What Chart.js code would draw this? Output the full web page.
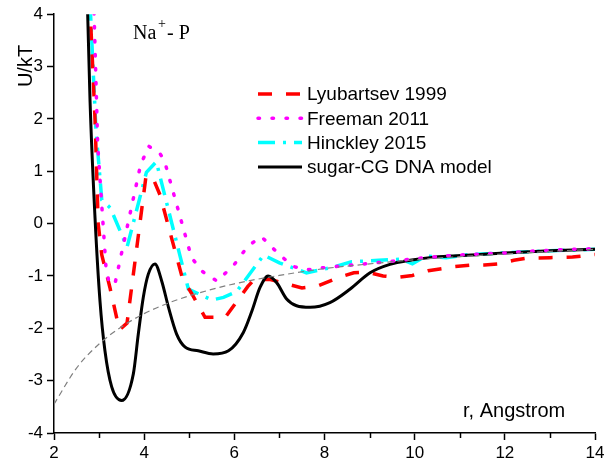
<!DOCTYPE html>
<html>
<head>
<meta charset="utf-8">
<script src="https://cdn.jsdelivr.net/npm/chart.js@4"></script>
<style>
  html, body { margin: 0; padding: 0; background: #fff; }
  #wrap { width: 615px; height: 462px; }
</style>
</head>
<body>
<div id="wrap"><canvas id="myChart" width="615" height="462"></canvas></div>
<script>
// Data (r in Angstrom, U/kT)
const lyubX = [2.79, 2.91, 2.98, 3.06, 3.24, 3.45, 3.62, 4.04, 4.18, 4.35, 4.85, 5.05, 5.35, 5.8, 6.3, 6.45, 6.8, 7.2, 7.5, 7.85, 8.35, 8.65, 8.95, 9.3, 9.6, 9.95, 10.3, 10.9, 11.25, 11.55, 11.85, 12.2, 12.5, 13.0, 13.5, 14.0];
const lyubY = [4.3, 2.0, 0.0, -0.6, -1.22, -2.03, -1.9, 0.9, 0.9, 0.55, -1.05, -1.33, -1.79, -1.79, -1.2, -1.06, -1.07, -1.16, -1.23, -1.19, -1.02, -0.94, -0.93, -1.0, -1.03, -0.99, -0.9, -0.82, -0.79, -0.79, -0.77, -0.7, -0.66, -0.65, -0.64, -0.59];

const freeX = [2.88, 2.97, 3.15, 3.22, 3.35, 3.92, 4.1, 4.35, 4.45, 5.05, 5.3, 5.62, 6.0, 6.3, 6.6, 6.95, 7.3, 7.65, 8.0, 8.5, 9.0, 9.5, 10.0, 10.5, 11.0, 11.5, 12.0, 12.5, 13.0, 13.5, 14.0];
const freeY = [4.3, 1.5, -0.8, -1.13, -1.16, 1.12, 1.48, 1.34, 1.2, -0.65, -0.92, -1.1, -0.78, -0.43, -0.25, -0.55, -0.82, -0.88, -0.84, -0.8, -0.76, -0.72, -0.67, -0.63, -0.6, -0.58, -0.56, -0.53, -0.51, -0.49, -0.48];

const hinckX = [2.8, 2.93, 3.06, 3.25, 3.62, 4.05, 4.27, 4.98, 5.5, 5.76, 6.05, 6.65, 7.0, 7.6, 8.15, 8.6, 9.2, 9.7, 9.95, 10.25, 10.7, 11.2, 11.5, 12.0, 13.0, 14.0];
const hinckY = [4.2, 1.8, 0.45, 0.3, -0.45, 0.98, 1.18, -1.25, -1.46, -1.41, -1.3, -0.6, -0.75, -0.94, -0.84, -0.73, -0.7, -0.68, -0.77, -0.62, -0.65, -0.59, -0.58, -0.56, -0.52, -0.49];

const cgX = [2.72, 2.8, 2.91, 3.02, 3.13, 3.28, 3.5, 3.76, 3.87, 3.98, 4.09, 4.24, 4.39, 4.54, 4.72, 4.91, 5.2, 5.53, 5.87, 6.2, 6.39, 6.57, 6.75, 6.94, 7.16, 7.38, 7.68, 8.12, 8.57, 9.01, 9.45, 9.9, 10.34, 10.78, 11.45, 12.0, 13.0, 14.0];
const cgY = [4.9, 2.33, 0.11, -1.48, -2.43, -3.12, -3.38, -2.87, -2.11, -1.41, -0.97, -0.77, -1.1, -1.6, -2.11, -2.36, -2.43, -2.49, -2.43, -2.08, -1.67, -1.22, -1.0, -1.13, -1.44, -1.57, -1.6, -1.51, -1.25, -0.94, -0.78, -0.7, -0.65, -0.62, -0.59, -0.56, -0.52, -0.49];

// gray dashed reference curve (no legend entry)
const refX = [2, 2.5, 3, 3.5, 4, 4.5, 5, 6, 7, 8, 9, 10, 11, 12, 13, 14];
const refY = [-3.45, -2.76, -2.3, -1.97, -1.72, -1.53, -1.38, -1.15, -0.99, -0.86, -0.77, -0.69, -0.63, -0.58, -0.53, -0.49];

const xTicks = [2, 4, 6, 8, 10, 12, 14];
const xMinorTicks = [3, 5, 7, 9, 11, 13];
const yTicks = [-4, -3, -2, -1, 0, 1, 2, 3, 4];

function toPoints(xs, ys) {
    return xs.map((x, i) => ({ x: x, y: ys[i] }));
}

const FONT = "'Liberation Sans', Arial, sans-serif";

// extra drawing: legend, titles, minor ticks
const extras = {
    id: 'extras',
    afterDraw(chart) {
        const ctx = chart.ctx;
        const xs = chart.scales.x;
        const area = chart.chartArea;
        ctx.save();

        // minor ticks on x
        ctx.strokeStyle = '#000';
        ctx.lineWidth = 1.5;
        xMinorTicks.forEach(v => {
            const px = Math.round(xs.getPixelForValue(v)) + 0.5;
            ctx.beginPath();
            ctx.moveTo(px, area.bottom);
            ctx.lineTo(px, area.bottom + 5);
            ctx.stroke();
        });

        // legend
        let y = 94;
        chart.data.datasets.forEach(ds => {
            if (!ds.label) return;
            ctx.strokeStyle = ds.borderColor;
            ctx.lineWidth = ds.borderWidth;
            ctx.lineCap = ds.borderCapStyle || 'butt';
            ctx.setLineDash(ds.borderDash || []);
            ctx.beginPath();
            ctx.moveTo(258, y);
            ctx.lineTo(302, y);
            ctx.stroke();
            ctx.setLineDash([]);
            ctx.fillStyle = '#000';
            ctx.font = '19px ' + FONT;
            ctx.textAlign = 'left';
            ctx.textBaseline = 'middle';
            ctx.fillText(ds.label, 307, y + 1);
            y += 24.3;
        });

        // Na+ - P label
        ctx.fillStyle = '#000';
        ctx.textBaseline = 'alphabetic';
        ctx.font = "20px 'Liberation Serif', 'Times New Roman', serif";
        ctx.fillText('Na', 133, 39);
        ctx.font = "14px 'Liberation Serif', 'Times New Roman', serif";
        ctx.fillText('+', 158, 28);
        ctx.font = "20px 'Liberation Serif', 'Times New Roman', serif";
        ctx.fillText('- P', 167, 39);

        // axis titles
        ctx.font = '20px ' + FONT;
        ctx.fillText('r, Angstrom', 463, 417);
        ctx.translate(32, 66);
        ctx.rotate(-Math.PI / 2);
        ctx.textAlign = 'center';
        ctx.fillText('U/kT', 0, 0);
        ctx.restore();
    }
};

const ctx = document.getElementById('myChart').getContext('2d');
const myChart = new Chart(ctx, {
    type: 'line',
    data: {
        datasets: [{
            label: 'Lyubartsev 1999',
            data: toPoints(lyubX, lyubY),
            borderColor: '#ff0000',
            borderWidth: 3.5,
            borderDash: [14, 14],
            tension: 0,
            order: 3
        }, {
            label: 'Freeman 2011',
            data: toPoints(freeX, freeY),
            borderColor: '#ff00ff',
            borderWidth: 3.5,
            borderDash: [1.5, 12.5],
            borderCapStyle: 'round',
            tension: 0,
            order: 1
        }, {
            label: 'Hinckley 2015',
            data: toPoints(hinckX, hinckY),
            borderColor: '#00ffff',
            borderWidth: 3.5,
            borderDash: [17, 8, 3, 8],
            tension: 0,
            order: 4
        }, {
            label: 'sugar-CG DNA model',
            data: toPoints(cgX, cgY),
            borderColor: '#000000',
            borderWidth: 3,
            cubicInterpolationMode: 'monotone',
            order: 2
        }, {
            label: '',
            data: toPoints(refX, refY),
            borderColor: '#808080',
            borderWidth: 1.2,
            borderDash: [6, 4],
            cubicInterpolationMode: 'monotone',
            order: 0
        }]
    },
    options: {
        responsive: false,
        animation: false,
        layout: { padding: { left: 0, top: 12, right: 20, bottom: 0 } },
        elements: { point: { radius: 0 } },
        plugins: {
            legend: { display: false },
            tooltip: { enabled: false }
        },
        scales: {
            x: {
                type: 'linear',
                min: 2,
                max: 14,
                afterFit: s => { s.height = 29; },
                afterBuildTicks: s => { s.ticks = xTicks.map(v => ({ value: v })); },
                ticks: {
                    color: '#000',
                    font: { family: FONT, size: 17 },
                    padding: 3,
                    autoSkip: false,
                    maxRotation: 0
                },
                grid: {
                    drawOnChartArea: false,
                    tickLength: 7,
                    tickWidth: 1.5,
                    color: '#000'
                },
                border: { display: true, color: '#000', width: 1.5 }
            },
            y: {
                min: -4,
                max: 4,
                afterFit: s => { s.width = 54; },
                afterBuildTicks: s => { s.ticks = yTicks.map(v => ({ value: v })); },
                ticks: {
                    color: '#000',
                    font: { family: FONT, size: 17 },
                    padding: 4
                },
                grid: {
                    drawOnChartArea: false,
                    tickLength: 7,
                    tickWidth: 1.5,
                    color: '#000'
                },
                border: { display: true, color: '#000', width: 1.5 }
            }
        }
    },
    plugins: [extras]
});
</script>
</body>
</html>
